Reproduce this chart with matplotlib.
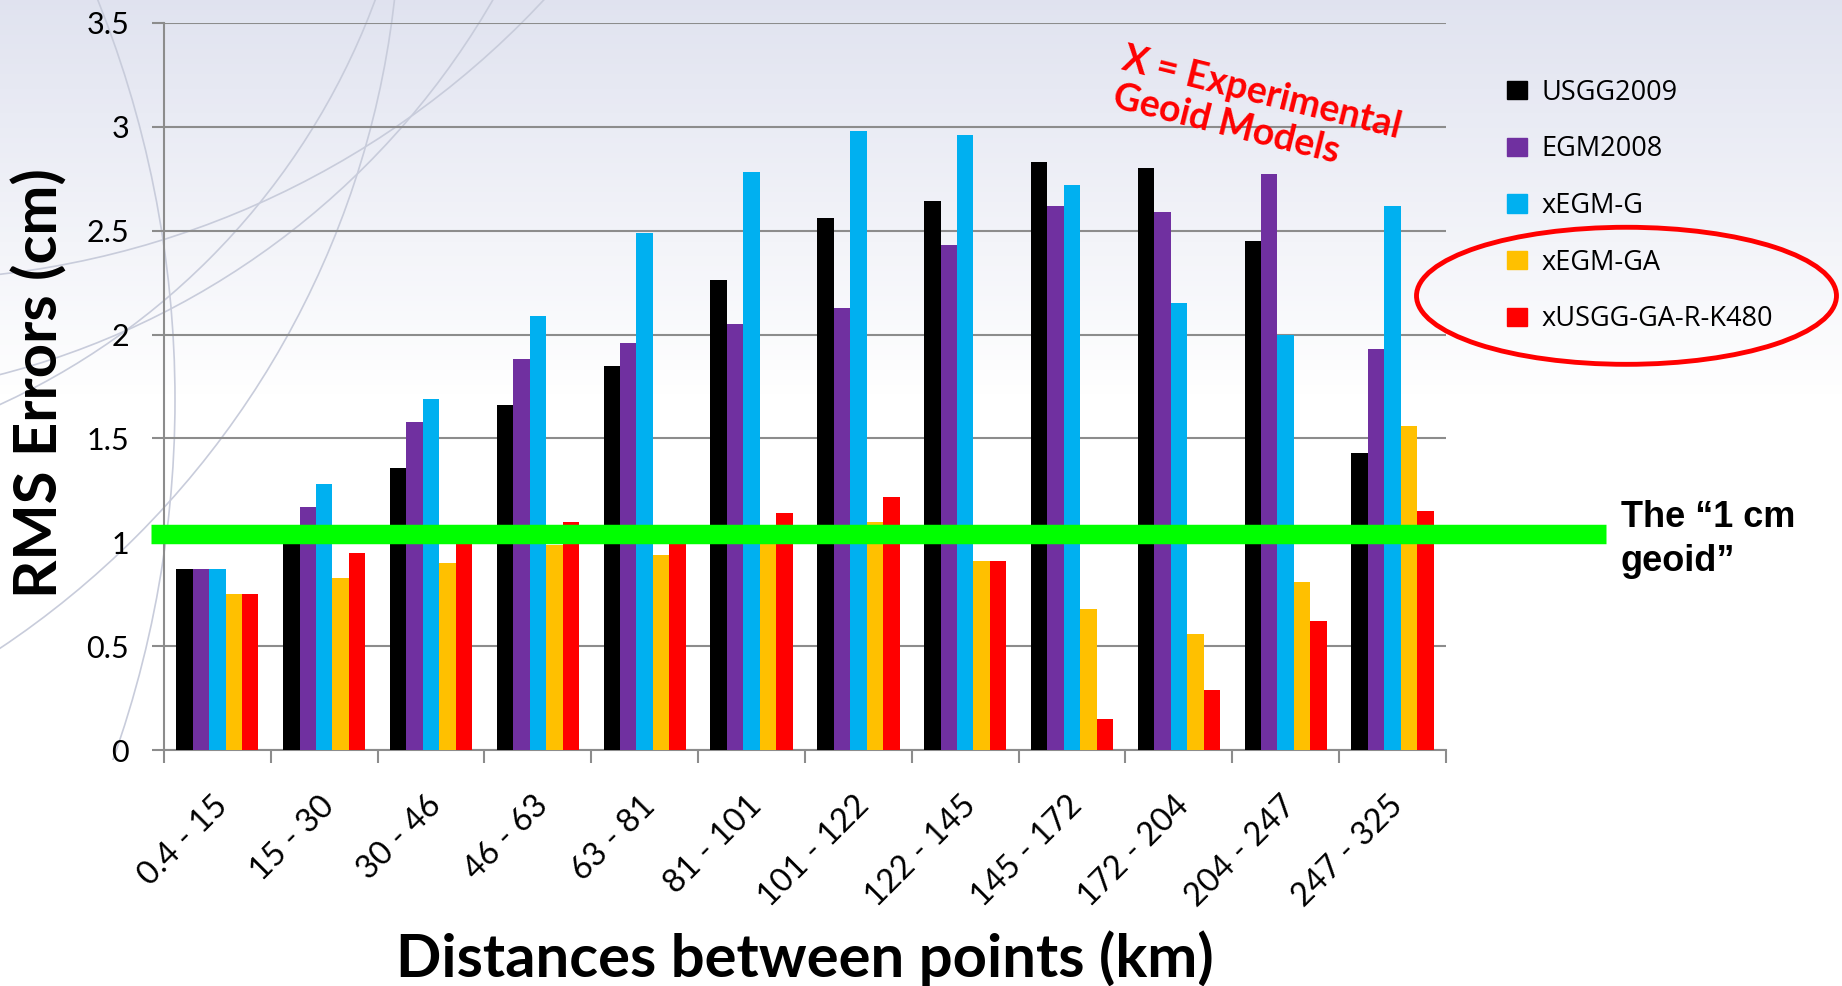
import matplotlib
matplotlib.use("Agg")
import matplotlib.pyplot as plt
import matplotlib.transforms as mtransforms
import numpy as np
from matplotlib.patches import Ellipse, Patch, Arc, Rectangle

# distance bins (km)
cats = ["0.4 - 15", "15 - 30", "30 - 46", "46 - 63", "63 - 81", "81 - 101",
        "101 - 122", "122 - 145", "145 - 172", "172 - 204", "204 - 247", "247 - 325"]

# RMS errors (cm) per model
usgg2009 = [0.87, 1.02, 1.36, 1.66, 1.85, 2.26, 2.56, 2.64, 2.83, 2.80, 2.45, 1.43]
egm2008  = [0.87, 1.17, 1.58, 1.88, 1.96, 2.05, 2.13, 2.43, 2.62, 2.59, 2.77, 1.93]
xegm_g   = [0.87, 1.28, 1.69, 2.09, 2.49, 2.78, 2.98, 2.96, 2.72, 2.15, 2.00, 2.62]
xegm_ga  = [0.75, 0.83, 0.90, 0.99, 0.94, 1.00, 1.10, 0.91, 0.68, 0.56, 0.81, 1.56]
xusgg    = [0.75, 0.95, 1.01, 1.10, 1.01, 1.14, 1.22, 0.91, 0.15, 0.29, 0.62, 1.15]

names = ["USGG2009", "EGM2008", "xEGM-G", "xEGM-GA", "xUSGG-GA-R-K480"]
colors = ["#000000", "#7030A0", "#00B0F0", "#FFC000", "#FF0000"]
series = [usgg2009, egm2008, xegm_g, xegm_ga, xusgg]

one_cm = 1.04

fig = plt.figure(figsize=(18.42, 9.86), dpi=100)

# slide background: grey gradient at the top + a few faint swirls top-left
bg = fig.add_axes([0, 0, 1, 1], zorder=-5)
grad = np.ones((200, 2, 3))
top = np.array([0.88, 0.89, 0.94])
for r in range(200):
    t = min(r / 80.0, 1.0)
    grad[r, :, :] = top * (1 - t) + np.array([1, 1, 1]) * t
bg.imshow(grad, aspect="auto", extent=[0, 1842, 986, 0])
clip = Rectangle((0, 0), 560, 760, transform=bg.transData)
for (cx, cy, rad) in [(-300, -250, 720), (-200, -400, 800), (-500, -100, 900),
                      (-100, -600, 880), (-900, 400, 1075)]:
    a = Arc((cx, cy), 2 * rad, 2 * rad, theta1=-90, theta2=90,
            color="#c8ccdb", lw=1.2)
    bg.add_patch(a)
    a.set_clip_path(clip)
bg.set_xlim(0, 1842)
bg.set_ylim(986, 0)
bg.axis("off")

ax = fig.add_axes([0.089, 0.239, 0.696, 0.738])
ax.patch.set_alpha(0)

x = np.arange(len(cats))
w = 0.154
for i, (vals, c) in enumerate(zip(series, colors)):
    ax.bar(x + (i - 2) * w, vals, width=w, color=c, zorder=3, label=names[i])

ax.set_xlim(-0.5, len(cats) - 0.5)
ax.set_ylim(0, 3.5)
ax.set_yticks(np.arange(0, 3.51, 0.5))
ax.set_yticklabels(["0", "0.5", "1", "1.5", "2", "2.5", "3", "3.5"])
ax.yaxis.grid(True, color="#8c8c8c", lw=1.5, zorder=1)
ax.tick_params(axis="y", length=9, width=1.5, color="#8c8c8c", pad=16, labelsize=22)

ax.set_xticks(x)
ax.set_xticklabels(cats, rotation=45, ha="right", rotation_mode="anchor", fontsize=23.5)
ax.set_xticks(np.arange(-0.5, len(cats), 1), minor=True)
ax.tick_params(axis="x", which="major", length=0, pad=29)
ax.tick_params(axis="x", which="minor", length=9, width=1.5, color="#8c8c8c")
shift = mtransforms.ScaledTranslation(-5 / 100, 0, fig.dpi_scale_trans)
for lab in ax.get_xticklabels():
    lab.set_transform(lab.get_transform() + shift)

for s in ["top", "right"]:
    ax.spines[s].set_visible(False)
for s in ["left", "bottom"]:
    ax.spines[s].set_color("#8c8c8c")
    ax.spines[s].set_linewidth(1.5)

for lab in ax.get_xticklabels() + ax.get_yticklabels():
    lab.set_family("Lato")

fig.text(0.0217, 0.612, "RMS Errors (cm)", fontsize=43, fontweight="bold", family="Lato",
         rotation=90, ha="center", va="center")
fig.text(0.437, 0.028, "Distances between points (km)", fontsize=43, fontweight="bold",
         family="Lato", ha="center", va="center")

# the 1 cm line
ax.axhline(one_cm, xmin=-0.01, xmax=1.125, color="#00FF00", lw=14, solid_capstyle="butt",
           clip_on=False, zorder=5)

fig.text(0.880, 0.453, "The \u201c1 cm\ngeoid\u201d", fontsize=26, fontweight="bold",
         family="Liberation Sans", va="center", ha="left", linespacing=1.35)

fig.text(0.612, 0.957, "X = Experimental\nGeoid Models", fontsize=27, fontweight="bold",
         family="Lato", color="#FF0000", rotation=-14, ha="left", va="top",
         rotation_mode="anchor", multialignment="left", linespacing=1.15)

handles = [Patch(facecolor=c, edgecolor=c) for c in colors]
leg = fig.legend(handles, names, loc="upper left", bbox_to_anchor=(0.805, 0.945),
                 frameon=False, prop={"family": "Open Sans", "size": 19.5},
                 handlelength=0.75, handleheight=0.65, handletextpad=0.5, labelspacing=1.06)

ell = Ellipse((0.883, 0.700), 0.228, 0.139, transform=fig.transFigure, fill=False,
              edgecolor="#FF0000", lw=3.5, zorder=10)
fig.patches.append(ell)

fig.savefig("out.png", dpi=100)
